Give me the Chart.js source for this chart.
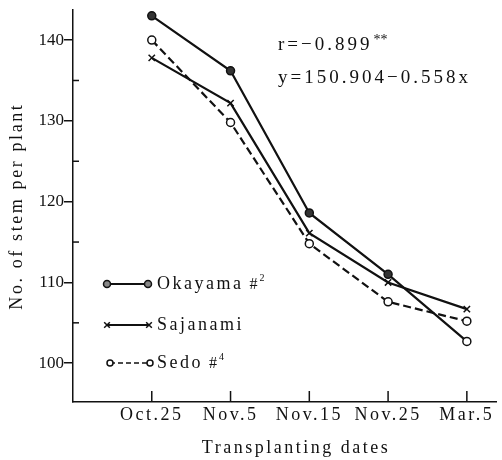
<!DOCTYPE html>
<html>
<head>
<meta charset="utf-8">
<script src="https://cdn.jsdelivr.net/npm/chart.js@4.4.1/dist/chart.umd.min.js"></script>
<style>
  body { margin: 0; background: #fff; }
  canvas { display: block; }
</style>
</head>
<body>
<canvas id="stemChart" width="502" height="460"></canvas>
<script>
// data
const dates = ['Oct.25', 'Nov.5', 'Nov.15', 'Nov.25', 'Mar.5'];
const okayama = [143.0, 136.2, 118.6, 111.0, 102.7];
const sajanami = [137.8, 132.2, 116.1, 110.0, 106.7];
const sedo = [140.0, 129.8, 114.8, 107.6, 105.2];
const yTicks = [100, 105, 110, 115, 120, 125, 130, 135, 140];

const serif = '"Liberation Serif", "DejaVu Serif", serif';
const ink = '#111';
const spacing = '2.5px';

const toPoints = arr => arr.map((v, i) => ({ x: i, y: v }));

// wrap a scale draw method so it runs with its own letter spacing
function withSpacing(scale, name, value) {
    const orig = scale[name].bind(scale);
    scale[name] = area => {
        const ctx = scale.ctx;
        ctx.letterSpacing = value;
        orig(area);
        ctx.letterSpacing = spacing;
    };
}

// legend, regression text, inner ticks, x title
const extras = {
    id: 'extras',
    beforeDraw(chart) {
        chart.ctx.letterSpacing = spacing;
        const ys = chart.scales.y;
        if (!ys._patched) {
            withSpacing(ys, 'drawLabels', '0px');
            withSpacing(ys, 'drawTitle', '2.6px');
            ys._patched = true;
        }
    },
    afterDraw(chart) {
        const ctx = chart.ctx;
        const xs = chart.scales.x;
        const ys = chart.scales.y;
        const area = chart.chartArea;
        ctx.save();
        ctx.strokeStyle = ink;
        ctx.fillStyle = ink;
        ctx.lineWidth = 1.5;

        // x ticks point up into the plot
        dates.forEach((d, i) => {
            const px = xs.getPixelForValue(i);
            ctx.beginPath();
            ctx.moveTo(px, area.bottom);
            ctx.lineTo(px, area.bottom - 11);
            ctx.stroke();
        });
        // minor y ticks on the inside
        yTicks.filter(v => v % 10 !== 0).forEach(v => {
            const py = ys.getPixelForValue(v);
            ctx.beginPath();
            ctx.moveTo(area.left, py);
            ctx.lineTo(area.left + 6, py);
            ctx.stroke();
        });

        // x axis title
        ctx.letterSpacing = spacing;
        ctx.font = '18px ' + serif;
        ctx.textAlign = 'center';
        ctx.textBaseline = 'middle';
        ctx.fillText('Transplanting dates', 296, 448);

        // regression text
        ctx.textAlign = 'left';
        ctx.font = '19px ' + serif;
        ctx.letterSpacing = '3px';
        ctx.fillText('r=\u22120.899', 278, 45);
        let w = ctx.measureText('r=\u22120.899').width;
        ctx.font = '14px ' + serif;
        ctx.letterSpacing = '0px';
        ctx.fillText('**', 278 + w + 1, 40);
        ctx.font = '19px ' + serif;
        ctx.letterSpacing = '3px';
        ctx.fillText('y=150.904\u22120.558x', 278, 78);

        // legend
        const items = [
            { y: 284, x1: 107, x2: 148, label: 'Okayama', sup: '2',
              style: 'circle', r: 3.5, fill: '#888', dash: [] },
            { y: 325, x1: 107, x2: 149, label: 'Sajanami', sup: null,
              style: 'crossRot', r: 4, fill: ink, dash: [] },
            { y: 363, x1: 110, x2: 150, label: 'Sedo', sup: '4',
              style: 'circle', r: 3, fill: '#fff', dash: [5, 3] }
        ];
        items.forEach(it => {
            ctx.setLineDash(it.dash);
            ctx.lineWidth = it.dash.length ? 1.5 : 2;
            ctx.beginPath();
            ctx.moveTo(it.x1, it.y);
            ctx.lineTo(it.x2, it.y);
            ctx.stroke();
            ctx.setLineDash([]);
            ctx.lineWidth = 1.5;
            ctx.fillStyle = it.fill;
            [it.x1, it.x2].forEach(px => {
                Chart.helpers.drawPoint(ctx, { pointStyle: it.style, radius: it.r, borderWidth: 1.5, rotation: 0 }, px, it.y);
            });
            ctx.fillStyle = ink;
            ctx.font = '18px ' + serif;
            ctx.letterSpacing = spacing;
            ctx.fillText(it.label, 157, it.y);
            if (it.sup) {
                const lw = ctx.measureText(it.label).width;
                ctx.letterSpacing = '0px';
                ctx.font = '16px ' + serif;
                ctx.fillText('#', 157 + lw + 6, it.y + 1);
                ctx.font = '10px ' + serif;
                ctx.fillText(it.sup, 157 + lw + 16, it.y - 6);
            }
        });
        ctx.restore();
    }
};

new Chart(document.getElementById('stemChart'), {
    type: 'line',
    data: {
        datasets: [
            {
                label: 'Okayama #2',
                data: toPoints(okayama),
                borderColor: ink,
                borderWidth: 2.2,
                pointStyle: 'circle',
                pointRadius: 4,
                pointBorderWidth: 1.5,
                pointBorderColor: ink,
                pointBackgroundColor: ['#333', '#333', '#333', '#333', '#fff']
            },
            {
                label: 'Sajanami',
                data: toPoints(sajanami),
                borderColor: ink,
                borderWidth: 2.2,
                pointStyle: 'crossRot',
                pointRadius: 4.5,
                pointBorderWidth: 1.5,
                pointBorderColor: ink
            },
            {
                label: 'Sedo #4',
                data: toPoints(sedo),
                borderColor: ink,
                borderWidth: 2.2,
                borderDash: [8, 4],
                pointStyle: 'circle',
                pointRadius: 4,
                pointBorderWidth: 1.5,
                pointBorderColor: ink,
                pointBackgroundColor: '#fff'
            }
        ]
    },
    options: {
        responsive: false,
        animation: false,
        layout: { padding: { top: 8, right: 4, left: 0, bottom: 0 } },
        plugins: {
            legend: { display: false },
            tooltip: { enabled: false }
        },
        scales: {
            x: {
                type: 'linear',
                min: -1,
                max: 4.37,
                afterBuildTicks: scale => {
                    scale.ticks = dates.map((d, i) => ({ value: i }));
                },
                afterFit: scale => { scale.height = 58; },
                border: { display: true, color: ink, width: 1.5 },
                grid: { display: false, drawTicks: false },
                ticks: {
                    color: ink,
                    font: { family: serif, size: 18 },
                    padding: 2,
                    maxRotation: 0,
                    autoSkip: false,
                    callback: v => dates[v]
                }
            },
            y: {
                min: 95.2,
                max: 143.7,
                afterBuildTicks: scale => {
                    scale.ticks = yTicks.map(v => ({ value: v }));
                },
                afterFit: scale => { scale.width = 73; },
                border: { display: true, color: ink, width: 1.5 },
                grid: {
                    drawOnChartArea: false,
                    drawTicks: true,
                    tickLength: 9,
                    lineWidth: 1.5,
                    color: c => (c.tick && c.tick.value % 10 === 0) ? ink : 'rgba(0,0,0,0)'
                },
                ticks: {
                    color: ink,
                    font: { family: serif, size: 17 },
                    padding: 0,
                    autoSkip: false,
                    callback: v => (v % 10 === 0 ? String(v) : '')
                },
                title: {
                    display: true,
                    text: 'No. of stem per plant',
                    color: ink,
                    font: { family: serif, size: 18 },
                    padding: { top: 6, bottom: 0 }
                }
            }
        }
    },
    plugins: [extras]
});
</script>
</body>
</html>
